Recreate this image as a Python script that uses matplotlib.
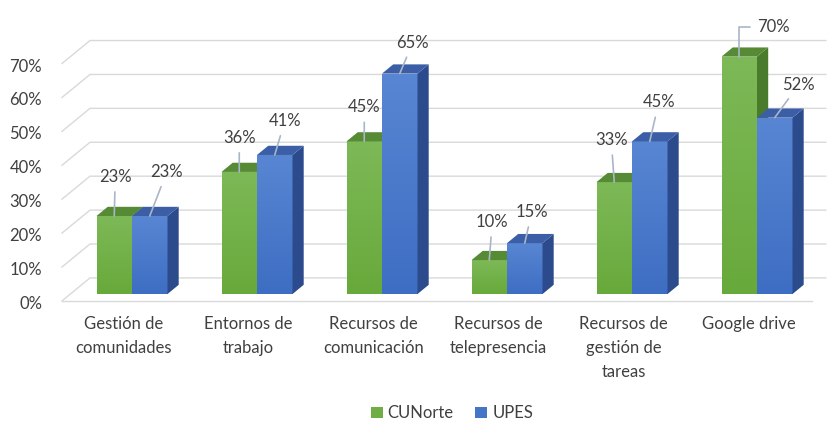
import matplotlib
matplotlib.use('Agg')
import numpy as np
import matplotlib.pyplot as plt
from matplotlib.patches import Polygon, Patch
from matplotlib.colors import LinearSegmentedColormap

plt.rcParams['font.family'] = ['Lato', 'DejaVu Sans']

# datos
categorias = ['Gestión de\ncomunidades', 'Entornos de\ntrabajo', 'Recursos de\ncomunicación',
              'Recursos de\ntelepresencia', 'Recursos de\ngestión de\ntareas', 'Google drive']
cunorte = [23, 36, 45, 10, 33, 70]
upes = [23, 41, 65, 15, 45, 52]
yticks = [0, 10, 20, 30, 40, 50, 60, 70]

# offsets de las etiquetas (pixeles) respecto al borde superior de la barra
off_cun = [(1, 39), (0, 34), (0, 34), (3, 38), (-3, 42), (34, 30)]
off_upes = [(17, 44), (10, 34), (13, 31), (7, 31), (9, 39), (24, 33)]

# colores
G_FRONT, G_TOP, G_SIDE = '#6fae45', '#568a34', '#4a7a2c'
B_FRONT, B_TOP, B_SIDE = '#4575c7', '#3b5ea6', '#2c4b8c'
G_GRAD = LinearSegmentedColormap.from_list('g', ['#68a93b', '#7db957'])
B_GRAD = LinearSegmentedColormap.from_list('b', ['#3e6ec3', '#5886d3'])
GRID = '#d9d9d9'
TXT = '#404040'
FS = 12

# profundidad 3D (en unidades de datos)
DX, DY = 0.224, 6.78
T_FRONT, T_BACK = 0.3, 0.7
W = 0.284


def proj(x, p, t):
    return (x + (t - T_FRONT) * DX, p + (t - T_FRONT) * DY)


fig = plt.figure(figsize=(8.34, 4.26), dpi=100)
ax = fig.add_axes([55 / 834, (426 - 305) / 426, 770 / 834, 285 / 426])
ax.axis('off')

# pared del fondo y lineas de cuadricula
x_left = -0.56 + T_FRONT * DX
for p in yticks:
    x0, y0 = proj(x_left, p, 0)
    x1, y1 = proj(x_left, p, 1)
    ax.plot([x0, x1, 5.55], [y0, y1, y1], color=GRID, lw=1, zorder=1, clip_on=False)
    ax.text(x0 - 0.16, y0 - 0.9, f'{p}%', ha='right', va='center', fontsize=FS, color=TXT)
fx0, fy0 = proj(x_left, 0, 0)
ax.plot([fx0, 5.44], [fy0, fy0], color=GRID, lw=1, zorder=1, clip_on=False)

bdx = (T_BACK - T_FRONT) * DX
bdy = (T_BACK - T_FRONT) * DY
grad = np.linspace(0, 1, 64).reshape(-1, 1)


def barra(xc, v, front, top, side, cmap):
    xl, xr = xc - W / 2, xc + W / 2
    b = ax.bar(xc, v, width=W, color=front, zorder=3, linewidth=0)[0]
    im = ax.imshow(grad, cmap=cmap, extent=(xl, xr, 0, v), origin='lower',
                   aspect='auto', zorder=3, interpolation='bilinear')
    im.set_clip_path(b)
    ax.add_patch(Polygon([(xr, 0), (xr, v), (xr + bdx, v + bdy), (xr + bdx, bdy)],
                         closed=True, facecolor=side, edgecolor='none', zorder=3))
    ax.add_patch(Polygon([(xl, v), (xr, v), (xr + bdx, v + bdy), (xl + bdx, v + bdy)],
                         closed=True, facecolor=top, edgecolor='none', zorder=3))


for i in range(len(categorias)):
    barra(i - W / 2, cunorte[i], G_FRONT, G_TOP, G_SIDE, G_GRAD)
    barra(i + W / 2, upes[i], B_FRONT, B_TOP, B_SIDE, B_GRAD)

# etiquetas de datos con lineas guia
for i in range(len(categorias)):
    for xc, v, off in [(i - W / 2, cunorte[i], off_cun[i]), (i + W / 2, upes[i], off_upes[i])]:
        if i == 5 and xc < i:
            cs = 'angle,angleA=0,angleB=90,rad=0'
        else:
            cs = 'arc3'
        ax.annotate(f'{v}%', xy=(xc, v), xytext=off, textcoords='offset pixels',
                    ha='center', va='center', fontsize=FS, color=TXT, zorder=5,
                    arrowprops=dict(arrowstyle='-', color='#a9b6c8', lw=1.2,
                                    shrinkA=3, shrinkB=0, connectionstyle=cs))

# etiquetas de categorias
for i, c in enumerate(categorias):
    xc, _ = proj(i, 0, 0)
    ax.text(xc, -6.6, c, ha='center', va='top', fontsize=FS, color=TXT, linespacing=1.6)

ax.set_xlim(-0.616, 5.544)
ax.set_ylim(-3.24, 80.8)

# leyenda
handles = [Patch(facecolor=G_FRONT, edgecolor='none', label='CUNorte'),
           Patch(facecolor=B_FRONT, edgecolor='none', label='UPES')]
fig.legend(handles=handles, loc='center', bbox_to_anchor=(0.542, 0.03), ncol=2, frameon=False,
           fontsize=FS, handlelength=0.7, handleheight=0.7, handletextpad=0.3,
           columnspacing=1.3, labelcolor=TXT)

fig.savefig('out.png', dpi=100)
